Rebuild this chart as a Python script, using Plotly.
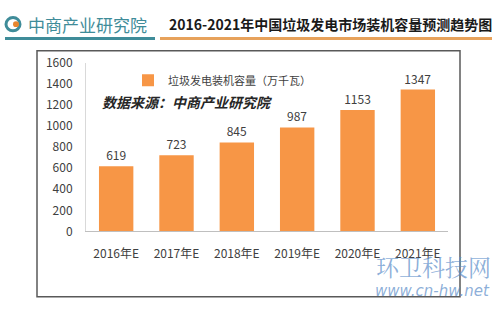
import plotly.graph_objects as go

categories = ["2016年E", "2017年E", "2018年E", "2019年E", "2020年E", "2021年E"]
values = [619, 723, 845, 987, 1153, 1347]
series_name = "垃圾发电装机容量（万千瓦）"
title_text = "2016-2021年中国垃圾发电市场装机容量预测趋势图"
source_text = "数据来源：中商产业研究院"
logo_text = "中商产业研究院"
y_ticks = [0, 200, 400, 600, 800, 1000, 1200, 1400, 1600]

W, H = 500, 315
def px(x): return x / W
def py(y): return (H - y) / H

font_cjk = "Noto Sans CJK SC, Microsoft YaHei, sans-serif"
orange = "#F79646"

fig = go.Figure()
fig.add_trace(go.Bar(
    x=categories, y=values, name=series_name,
    marker=dict(color=orange, line=dict(width=0)),
    text=[str(v) for v in values], textposition="outside",
    textfont=dict(size=12, color="#404040", family=font_cjk),
    cliponaxis=False, width=0.57,
))

fig.update_layout(
    width=W, height=H, margin=dict(l=0, r=0, t=0, b=0),
    paper_bgcolor="white", plot_bgcolor="white",
    showlegend=True,
    legend=dict(x=px(128), y=py(59), xanchor="left", yanchor="top",
                font=dict(size=11, color="#404040", family=font_cjk),
                bgcolor="rgba(0,0,0,0)", itemwidth=30),
    xaxis=dict(domain=[px(86), px(448)], showline=True, linecolor="#BFBFBF",
               linewidth=1, ticks="", tickfont=dict(size=12, color="#404040", family=font_cjk),
               ticklabelstandoff=11),
    yaxis=dict(domain=[py(234), py(56)], range=[0, 1600], tickvals=y_ticks,
               showgrid=False, showline=True, linecolor="#D9D9D9", zeroline=False,
               ticks="", tickfont=dict(size=12, color="#404040", family=font_cjk),
               ticklabelstandoff=10),
    font=dict(family=font_cjk),
)

shapes = [
    dict(type="rect", xref="paper", yref="paper", x0=px(37), x1=px(460), y0=py(303), y1=py(43),
         line=dict(color="#595959", width=1.5), fillcolor="rgba(0,0,0,0)", layer="below"),
    dict(type="line", xref="paper", yref="paper", x0=px(5), x1=px(155), y0=py(30), y1=py(30),
         line=dict(color="#3F8C99", width=3)),
    dict(type="line", xref="paper", yref="paper", x0=px(160), x1=px(492), y0=py(30), y1=py(30),
         line=dict(color="#E7A25B", width=3)),
    dict(type="circle", xref="paper", yref="paper", x0=px(6), x1=px(20), y0=py(22), y1=py(8),
         line=dict(color="#3F8C99", width=3), fillcolor="rgba(0,0,0,0)"),
    dict(type="circle", xref="paper", yref="paper", x0=px(13), x1=px(19), y0=py(18), y1=py(12),
         line=dict(width=0), fillcolor="#E8862F"),
]
fig.update_layout(shapes=shapes)

annotations = [
    dict(text=logo_text, x=px(26), y=py(15), xref="paper", yref="paper", xanchor="left",
         yanchor="middle", showarrow=False, font=dict(size=17, color="#3F8C99", family=font_cjk)),
    dict(text="<b>" + title_text + "</b>", x=px(494), y=py(15), xref="paper", yref="paper",
         xanchor="right", yanchor="middle", showarrow=False,
         font=dict(size=14, color="#1a1a1a", family=font_cjk)),
    dict(text="<b><i>" + source_text + "</i></b>", x=px(100), y=py(97), xref="paper", yref="paper",
         xanchor="left", yanchor="middle", showarrow=False,
         font=dict(size=14, color="#262626", family=font_cjk)),
    dict(text="环卫科技网", x=px(493), y=py(271), xref="paper", yref="paper",
         xanchor="right", yanchor="middle", showarrow=False,
         font=dict(size=23, color="rgba(90,140,200,0.7)", family="Noto Serif CJK SC, Noto Sans CJK SC, serif")),
    dict(text="<i>www.cn-hw.net</i>", x=px(492), y=py(297), xref="paper", yref="paper",
         xanchor="right", yanchor="middle", showarrow=False,
         font=dict(size=15, color="rgba(90,140,200,0.7)", family="DejaVu Sans, sans-serif")),
]
fig.update_layout(annotations=annotations)

fig.write_html("out.html")
